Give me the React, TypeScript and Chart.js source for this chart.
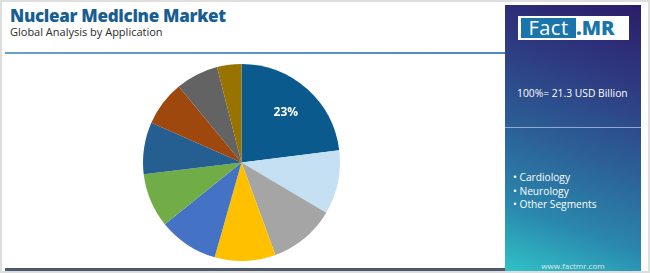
import React, { useEffect, useRef } from "react";
import { Chart, registerables } from "chart.js";

Chart.register(...registerables);

const segments = [
  "Segment 1", "Segment 2", "Segment 3", "Segment 4", "Segment 5",
  "Segment 6", "Segment 7", "Segment 8", "Segment 9", "Segment 10",
];
const shares = [23, 10.5, 10.9, 10, 9.8, 8.9, 8.5, 7.4, 7, 4];
const sliceColors = [
  "#0b5a8e", "#c4e0f2", "#a5a5a5", "#ffc000", "#4472c4",
  "#70ad47", "#255e91", "#9e480e", "#636363", "#997300",
];
const shownLabels = ["23%", "", "", "", "", "", "", "", "", ""];
const legendItems = ["Cardiology", "Neurology", "Other Segments"];
const totalText = "100%= 21.3 USD Billion";

const labelPlugin = {
  id: "sliceLabels",
  afterDatasetsDraw(chart: any) {
    const meta = chart.getDatasetMeta(0);
    const ctx = chart.ctx;
    ctx.save();
    ctx.fillStyle = "#ffffff";
    ctx.font = "bold 12px 'Open Sans', Arial, sans-serif";
    ctx.textAlign = "center";
    ctx.textBaseline = "middle";
    meta.data.forEach((arc: any, i: number) => {
      const t = shownLabels[i];
      if (!t) return;
      const p = arc.getProps(["x", "y", "startAngle", "endAngle", "outerRadius"], true);
      const mid = (p.startAngle + p.endAngle) / 2;
      const r = p.outerRadius * 0.68;
      ctx.fillText(t, p.x + Math.cos(mid) * r, p.y + Math.sin(mid) * r);
    });
    ctx.restore();
  },
};

export default function App() {
  const ref = useRef<HTMLCanvasElement | null>(null);
  useEffect(() => {
    document.body.style.margin = "0";
    if (!ref.current) return;
    const chart = new Chart(ref.current, {
      type: "pie",
      data: {
        labels: segments,
        datasets: [
          {
            data: shares,
            backgroundColor: sliceColors,
            borderWidth: 0,
          },
        ],
      },
      options: {
        animation: false,
        responsive: false,
        maintainAspectRatio: false,
        layout: { padding: 0 },
        plugins: { legend: { display: false }, tooltip: { enabled: false } },
      },
      plugins: [labelPlugin],
    });
    return () => chart.destroy();
  }, []);

  const font = "'Open Sans', 'Noto Sans', Arial, sans-serif";
  return (
    <div
      style={{
        position: "fixed",
        left: 0,
        top: 0,
        width: 650,
        height: 273,
        boxSizing: "border-box",
        border: "2px solid #dedede",
        background: "#ffffff",
        fontFamily: font,
        overflow: "hidden",
      }}
    >
      <div
        style={{
          position: "absolute",
          left: 8,
          top: 2,
          fontSize: 17,
          fontWeight: 800,
          color: "#185e93",
          letterSpacing: -0.3,
          whiteSpace: "nowrap",
        }}
      >
        Nuclear Medicine Market
      </div>
      <div
        style={{
          position: "absolute",
          left: 8,
          top: 22,
          fontSize: 11,
          color: "#2b2b2b",
          whiteSpace: "nowrap",
        }}
      >
        Global Analysis by Application
      </div>
      <div
        style={{
          position: "absolute",
          left: 3,
          top: 50,
          width: 502,
          height: 2,
          background: "linear-gradient(to right, #6aa0c8, #4e8ac0)",
        }}
      />
      <div
        style={{
          position: "absolute",
          left: 3,
          top: 266,
          width: 502,
          height: 3,
          background: "#4e596c",
        }}
      />
      <canvas
        ref={ref}
        width={197}
        height={197}
        style={{ position: "absolute", left: 141, top: 62, width: 197, height: 197 }}
      />
      <div
        style={{
          position: "absolute",
          left: 503,
          top: 3,
          width: 136,
          height: 266,
          background:
            "linear-gradient(20deg, #30c2c7 0%, #2a86ad 22%, #2c5d95 48%, #2e3c82 72%, #2c1c69 100%)",
          color: "#ffffff",
        }}
      >
        <div
          style={{
            position: "absolute",
            left: 13,
            top: 11,
            width: 111,
            height: 24,
            background: "#ffffff",
          }}
        >
          <div
            style={{
              position: "absolute",
              left: 3,
              top: 2,
              width: 55,
              height: 20,
              background: "#1a76aa",
              color: "#ffffff",
              fontSize: 20,
              lineHeight: "20px",
              textAlign: "center",
              letterSpacing: 0.5,
            }}
          >
            Fact
          </div>
          <div
            style={{
              position: "absolute",
              left: 58,
              top: 1,
              color: "#1a76aa",
              fontSize: 20,
              lineHeight: "22px",
              fontWeight: 800,
            }}
          >
            .MR
          </div>
        </div>
        <div
          style={{
            position: "absolute",
            left: 12,
            top: 81,
            fontSize: 10.3,
            whiteSpace: "nowrap",
          }}
        >
          {totalText}
        </div>
        <div
          style={{
            position: "absolute",
            left: 0,
            top: 122,
            width: 136,
            height: 1,
            background: "rgba(170,190,225,0.8)",
          }}
        />
        <div style={{ position: "absolute", left: 8, top: 166, fontSize: 10.2, lineHeight: "13.5px" }}>
          {legendItems.map((t) => (
            <div key={t} style={{ whiteSpace: "nowrap" }}>
              {"• " + t}
            </div>
          ))}
        </div>
        <div
          style={{
            position: "absolute",
            left: 0,
            width: 136,
            top: 255,
            fontSize: 8,
            textAlign: "center",
            color: "#dfe8f0",
          }}
        >
          www.factmr.com
        </div>
      </div>
    </div>
  );
}
